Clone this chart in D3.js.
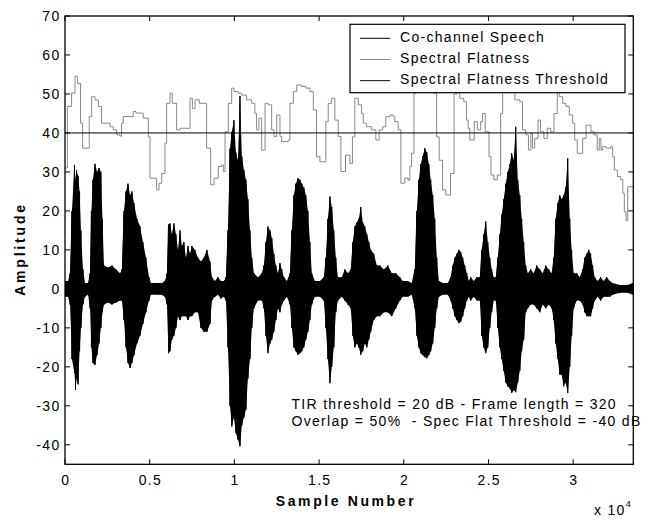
<!DOCTYPE html>
<html>
<head>
<meta charset="utf-8">
<script src="https://cdn.jsdelivr.net/npm/d3@7"></script>
<style>
  body { margin: 0; background: #fff; }
  svg { display: block; font-family: "Liberation Sans", Arial, sans-serif; }
</style>
</head>
<body>
<div id="chart"></div>
<script>

// Axis ticks
const xTicks = [0, 5000, 10000, 15000, 20000, 25000, 30000];
const xTickLabels = ["0", "0.5", "1", "1.5", "2", "2.5", "3"];
const yTicks = [-40, -30, -20, -10, 0, 10, 20, 30, 40, 50, 60, 70];
const sampleCount = 33550;

// Co-channel speech, envelope (max / min)
const envSample = [0, 180, 300, 410, 560, 620, 680, 770, 860, 940, 1060, 1180, 1360, 1480, 1560, 1650, 1770, 1890, 2010, 2120, 2210, 2300, 2540, 2770, 3010, 3250, 3360, 3480, 3600, 3720, 3840, 3950, 4070, 4250, 4430, 4600, 4780, 4960, 5070, 5490, 5720, 5900, 6020, 6110, 6200, 6310, 6430, 6550, 6670, 6790, 6900, 7020, 7140, 7260, 7380, 7490, 7670, 7850, 8020, 8200, 8380, 8560, 8670, 8850, 9030, 9200, 9380, 9500, 9620, 9740, 9850, 9970, 10090, 10210, 10330, 10440, 10560, 10680, 10800, 10920, 11030, 11150, 11390, 11620, 11740, 11860, 11980, 12100, 12210, 12330, 12450, 12570, 12690, 12800, 12920, 13100, 13280, 13390, 13510, 13630, 13750, 13870, 13980, 14100, 14220, 14340, 14460, 14570, 14750, 15050, 15280, 15400, 15520, 15640, 15750, 15870, 15990, 16110, 16340, 16520, 16700, 16870, 16990, 17110, 17230, 17350, 17460, 17580, 17700, 17820, 17940, 18050, 18230, 18410, 18590, 18820, 19060, 19290, 19530, 19770, 19940, 20240, 20470, 20650, 20770, 20890, 21000, 21120, 21240, 21360, 21480, 21590, 21710, 21830, 21950, 22070, 22300, 22600, 22770, 22890, 23010, 23130, 23250, 23360, 23480, 23600, 23720, 23840, 23950, 24130, 24310, 24490, 24600, 24720, 24840, 24960, 25080, 25190, 25310, 25430, 25550, 25670, 25780, 25900, 26020, 26140, 26260, 26370, 26490, 26610, 26730, 26850, 26960, 27080, 27200, 27320, 27490, 27670, 27850, 28030, 28200, 28380, 28560, 28730, 28850, 28970, 29090, 29210, 29320, 29440, 29560, 29680, 29800, 29910, 30030, 30210, 30390, 30560, 30680, 30800, 30920, 31030, 31150, 31270, 31450, 31620, 31800, 31980, 32160, 32330, 32750, 33220, 33510];
const envHigh = [2, 2, 4, 20, 31.8, 28, 30.5, 29, 25, 15, 5, 1.5, 1.5, 4, 20, 28, 32.1, 30, 31, 30, 18, 6, 5.5, 6, 5, 4, 5, 20, 25, 27, 24, 25, 22, 18, 16, 12, 8, 3, 1.5, 1.5, 1.5, 2, 4, 16.5, 16.8, 14, 16.8, 14, 10, 15, 11, 12, 8, 11, 9, 11, 10, 8, 7, 8, 10, 7, 3, 2, 3, 2, 2, 3, 15, 36, 40.3, 43.3, 35, 33, 49.5, 34, 30.5, 28, 23, 15, 8, 4, 3, 4, 6, 12, 16, 15, 13, 9, 6, 4, 6.6, 5, 3, 2, 4, 15, 24, 27, 28.4, 28, 27, 26, 24, 20, 12, 4, 2, 2, 3, 8, 18, 23.7, 21, 15, 8, 3, 3, 5, 4, 5, 12, 16, 17, 18, 21, 17, 16, 14, 12, 10, 9, 6, 6, 5, 6, 4, 4, 3, 2, 2, 1.5, 5, 20, 28, 32, 34, 36.1, 35, 32, 28, 24, 18, 8, 2, 1.5, 1.5, 3, 6, 8, 9, 10, 9.5, 8, 6, 4, 2, 3, 2, 3, 3, 10, 14, 17.3, 12, 8, 5, 3, 3, 8, 14, 19, 23, 27, 30, 32, 34.8, 33, 41.6, 28, 24, 18, 12, 6, 4, 5, 4, 6, 5, 4, 6, 5, 4, 8, 18, 22, 24, 23, 24, 26, 33.5, 18, 10, 4, 4, 3, 5, 8, 9, 10, 9, 6, 3, 2, 3, 2, 3, 2, 1.5, 1, 1, 1.5];
const envLow = [-2, -2, -4, -18, -21.6, -25.9, -23, -24.5, -16, -10, -4, -2, -1.5, -5, -15, -19, -19.5, -17, -14, -10, -6, -4, -3.5, -4, -3.5, -3, -3, -8, -15, -19, -20.3, -19, -17, -14, -12, -9, -6, -3, -1.5, -1.5, -1.5, -2, -4, -16.5, -16, -13, -12, -10, -7, -8, -7, -7, -7, -8, -7, -7, -6, -6, -10, -11, -11, -9, -3, -2, -1.5, -2.5, -2, -3, -15, -30, -35.3, -33, -37, -38.7, -40.4, -35, -33, -31, -23, -18, -10, -5, -3, -3, -5, -12, -16.5, -14, -13, -11, -8, -5, -6, -4, -3, -2, -4, -10, -15, -16, -16.9, -16.5, -16, -15, -13, -11, -8, -4, -2, -2, -3, -10, -18, -24.2, -20, -15, -6, -3, -2, -3, -4, -5, -12, -15, -14, -15, -16.9, -16, -14, -15, -13, -11, -8, -7, -7, -6, -6, -7, -5, -3, -2, -2, -1.5, -5, -12, -15, -16.5, -17, -17.5, -17.8, -17, -16, -14, -10, -5, -2, -1.5, -1.5, -3, -5, -7, -8, -8.8, -8.5, -7, -5, -3, -2, -3, -2, -3, -3, -12, -15, -16.5, -15, -10, -6, -3, -3, -10, -15, -18, -21, -24, -25, -25.5, -26.7, -26, -26.5, -24, -21, -16, -13, -6, -5, -4, -4, -5, -6, -4, -5, -4, -5, -8, -14, -18, -22, -22, -25, -24, -26.7, -20, -12, -5, -3, -3, -4, -6, -7, -7, -7, -5, -3, -2, -3, -2, -2, -2, -1.5, -1, -1, -1.5];

// Spectral flatness, step values
const flatSample = [0, 140, 390, 590, 730, 920, 1040, 1430, 1570, 1770, 1970, 2160, 2660, 2850, 3050, 3250, 3340, 3440, 4030, 4190, 4620, 4920, 5020, 5410, 5550, 5710, 5900, 6000, 6200, 6330, 6590, 6790, 7380, 7520, 7680, 7930, 8360, 8600, 8800, 9050, 9250, 9350, 9450, 9640, 9840, 9980, 10230, 10430, 10720, 11020, 11210, 11310, 11450, 11610, 11810, 12000, 12200, 12340, 12500, 12690, 12790, 13180, 13280, 13480, 13680, 13970, 14220, 14460, 14660, 14850, 15050, 15400, 15540, 15740, 15930, 16130, 16290, 16560, 16820, 16970, 17110, 17310, 17510, 17610, 17800, 18100, 18350, 18550, 18750, 18940, 19180, 19370, 19470, 19670, 19830, 20060, 20260, 20360, 20460, 20600, 20720, 21390, 21740, 21940, 22090, 22290, 22480, 22760, 22970, 23150, 23300, 23540, 23700, 23800, 23900, 24160, 24340, 24540, 24650, 24810, 25030, 25150, 25320, 25520, 25720, 25840, 26370, 26560, 26850, 27010, 27200, 27360, 27500, 27600, 27730, 27930, 28070, 28270, 28470, 28670, 28870, 29060, 29180, 29380, 29570, 29770, 29970, 30090, 30240, 30560, 30760, 30950, 31050, 31230, 31420, 31540, 31640, 31740, 31940, 32210, 32330, 32430, 32610, 32810, 32930, 33020, 33120, 33220];
const flatValue = [31, 46.8, 50.2, 54.6, 52.7, 42.5, 36.1, 44.2, 49.3, 48.5, 46.8, 42.5, 41.6, 40.8, 39.5, 39.2, 42.5, 44.2, 45.5, 45.1, 43.8, 39, 28.4, 25.4, 27.1, 29.6, 37.4, 47.6, 50.2, 47.6, 40.8, 41.2, 48.9, 46.3, 48.5, 47.6, 36.1, 26.7, 28.4, 31.4, 31.8, 30.1, 40.3, 47.6, 51.5, 50.6, 50.2, 49.7, 48.5, 47.6, 45, 40.8, 43.8, 35.6, 47.6, 47.2, 40.8, 39.1, 44.6, 39.1, 37.8, 38.2, 47.6, 50.6, 52.3, 51.9, 51.5, 50.6, 45.9, 33.9, 32.6, 42.9, 47.6, 48.9, 43.3, 39.1, 30.1, 34.3, 32.2, 39, 48.9, 47.2, 45, 42.5, 41.6, 40.8, 38.2, 40.8, 41.6, 44.2, 44.6, 44.2, 42.9, 40.8, 27.1, 28.4, 27.9, 31.4, 34.8, 50.2, 54, 53, 50.2, 39, 33, 25.4, 24.1, 29.6, 50, 53, 48.9, 48, 43.3, 41.2, 38.2, 42.9, 40.8, 42.9, 45, 40.3, 33.9, 29.2, 28, 29.2, 45, 52, 52, 48.5, 48, 40.8, 39.5, 35.6, 39.9, 36.1, 38.6, 43.3, 40.3, 38.6, 41.2, 40.3, 45, 50.6, 49.3, 47.6, 46.8, 44.6, 42.5, 38.2, 34.8, 38.6, 42, 42, 40.3, 39.5, 35.6, 38.6, 35.6, 36.5, 36.1, 36.5, 33.9, 30.5, 28.8, 28, 24.5, 19.8, 17.5, 26.2];

const flatThreshold = 40;

const legendLabels = ["Co-channel Speech", "Spectral Flatness", "Spectral Flatness Threshold"];
const legendColors = ["#000", "#888", "#000"];
const noteLines = [
  "TIR threshold = 20 dB - Frame length = 320",
  "Overlap = 50%  - Spec Flat Threshold = -40 dB"
];

const drawChart = () => {

  // Dimensions
  const width = 649;
  const height = 520;
  const margin = { top: 16, right: 15.7, bottom: 55.7, left: 65 };
  const innerWidth = width - margin.left - margin.right;
  const innerHeight = height - margin.top - margin.bottom;

  const svg = d3.select("#chart")
    .append("svg")
      .attr("width", width)
      .attr("height", height)
      .attr("viewBox", `0 0 ${width} ${height}`);

  const x = d3.scaleLinear()
    .domain([0, sampleCount])
    .range([0, innerWidth]);
  const y = d3.scaleLinear()
    .domain([-45, 70])
    .range([innerHeight, 0]);

  svg.append("defs")
    .append("clipPath")
      .attr("id", "plot-clip")
    .append("rect")
      .attr("width", innerWidth)
      .attr("height", innerHeight);

  const plot = svg.append("g")
    .attr("transform", `translate(${margin.left}, ${margin.top})`);

  const inner = plot.append("g")
    .attr("clip-path", "url(#plot-clip)");

  // Speech waveform: envelope fill + zigzag strokes
  const env = envSample.map((s, i) => ({ s, hi: envHigh[i], lo: envLow[i] }));
  inner.append("path")
    .datum(env)
    .attr("fill", "#000")
    .attr("d", d3.area()
      .x(d => x(d.s))
      .y0(d => y(d.lo))
      .y1(d => y(d.hi)));

  const zig = env.flatMap(d => [[d.s, d.hi], [d.s, d.lo]]);
  inner.append("path")
    .datum(zig)
    .attr("fill", "none")
    .attr("stroke", "#000")
    .attr("stroke-width", 1)
    .attr("d", d3.line()
      .x(d => x(d[0]))
      .y(d => y(d[1])));

  // Spectral flatness (step)
  const flat = flatSample.map((s, i) => [s, flatValue[i]]);
  flat.push([sampleCount, flatValue[flatValue.length - 1]]);
  inner.append("path")
    .datum(flat)
    .attr("fill", "none")
    .attr("stroke", legendColors[1])
    .attr("stroke-width", 1)
    .attr("d", d3.line()
      .curve(d3.curveStepAfter)
      .x(d => x(d[0]))
      .y(d => y(d[1])));

  // Threshold
  inner.append("line")
    .attr("x1", 0)
    .attr("x2", innerWidth)
    .attr("y1", y(flatThreshold))
    .attr("y2", y(flatThreshold))
    .attr("stroke", "#000")
    .attr("stroke-width", 1);

  // Frame
  plot.append("rect")
    .attr("width", innerWidth)
    .attr("height", innerHeight)
    .attr("fill", "none")
    .attr("stroke", "#000")
    .attr("stroke-width", 1.3);

  // Ticks (inward, all four sides)
  const tickLen = 5;
  plot.selectAll(".xtick-b")
    .data(xTicks)
    .join("line")
      .attr("class", "xtick-b")
      .attr("x1", d => x(d)).attr("x2", d => x(d))
      .attr("y1", innerHeight).attr("y2", innerHeight - tickLen)
      .attr("stroke", "#000");
  plot.selectAll(".xtick-t")
    .data(xTicks)
    .join("line")
      .attr("class", "xtick-t")
      .attr("x1", d => x(d)).attr("x2", d => x(d))
      .attr("y1", 0).attr("y2", tickLen)
      .attr("stroke", "#000");
  plot.selectAll(".ytick-l")
    .data(yTicks)
    .join("line")
      .attr("class", "ytick-l")
      .attr("x1", 0).attr("x2", tickLen)
      .attr("y1", d => y(d)).attr("y2", d => y(d))
      .attr("stroke", "#000");
  plot.selectAll(".ytick-r")
    .data(yTicks)
    .join("line")
      .attr("class", "ytick-r")
      .attr("x1", innerWidth).attr("x2", innerWidth - tickLen)
      .attr("y1", d => y(d)).attr("y2", d => y(d))
      .attr("stroke", "#000");

  // Tick labels
  plot.selectAll(".xlabel")
    .data(xTicks)
    .join("text")
      .attr("class", "xlabel")
      .attr("x", d => x(d) + 0.7)
      .attr("y", innerHeight + 21)
      .attr("text-anchor", "middle")
      .style("font-size", "14px")
      .style("letter-spacing", "1.3px")
      .text((d, i) => xTickLabels[i]);

  plot.selectAll(".ylabel")
    .data(yTicks)
    .join("text")
      .attr("class", "ylabel")
      .attr("x", -4.5)
      .attr("y", d => y(d) + 5)
      .attr("text-anchor", "end")
      .style("font-size", "14px")
      .style("letter-spacing", "1.3px")
      .text(d => d);

  // Axis titles
  svg.append("text")
    .attr("x", 346)
    .attr("y", 506)
    .attr("text-anchor", "middle")
    .style("font-size", "14px")
    .style("font-weight", "bold")
    .style("letter-spacing", "2.6px")
    .text("Sample Number");

  svg.append("text")
    .attr("transform", "translate(25, 249) rotate(-90)")
    .attr("text-anchor", "middle")
    .style("font-size", "14px")
    .style("font-weight", "bold")
    .style("letter-spacing", "2.8px")
    .text("Amplitude");

  const expo = svg.append("text")
    .attr("x", 594)
    .attr("y", 515)
    .style("font-size", "14px")
    .style("letter-spacing", "1.3px");
  expo.append("tspan").text("x 10");
  expo.append("tspan")
    .attr("dy", -8)
    .style("font-size", "9px")
    .text("4");

  // Legend
  const legend = svg.append("g")
    .attr("transform", "translate(350, 24.3)");
  legend.append("rect")
    .attr("width", 275)
    .attr("height", 68.4)
    .attr("fill", "#fff")
    .attr("stroke", "#000")
    .attr("stroke-width", 1.2);
  const rows = legend.selectAll(".legend-row")
    .data(legendLabels)
    .join("g")
      .attr("class", "legend-row")
      .attr("transform", (d, i) => `translate(0, ${17.4 + i * 21.2})`);
  rows.append("line")
    .attr("x1", 10).attr("x2", 40)
    .attr("y1", -3.4).attr("y2", -3.4)
    .attr("stroke", (d, i) => legendColors[i])
    .attr("stroke-width", 1);
  rows.append("text")
    .attr("x", 50)
    .attr("y", 0)
    .style("font-size", "14px")
    .style("letter-spacing", "1.3px")
    .text(d => d);

  // Notes
  svg.selectAll(".note")
    .data(noteLines)
    .join("text")
      .attr("class", "note")
      .attr("x", 291.5)
      .attr("y", (d, i) => 408.5 + i * 17.3)
      .style("font-size", "14px")
      .style("letter-spacing", "1.3px")
      .style("white-space", "pre")
      .text(d => d);
};

drawChart();
</script>
</body>
</html>
